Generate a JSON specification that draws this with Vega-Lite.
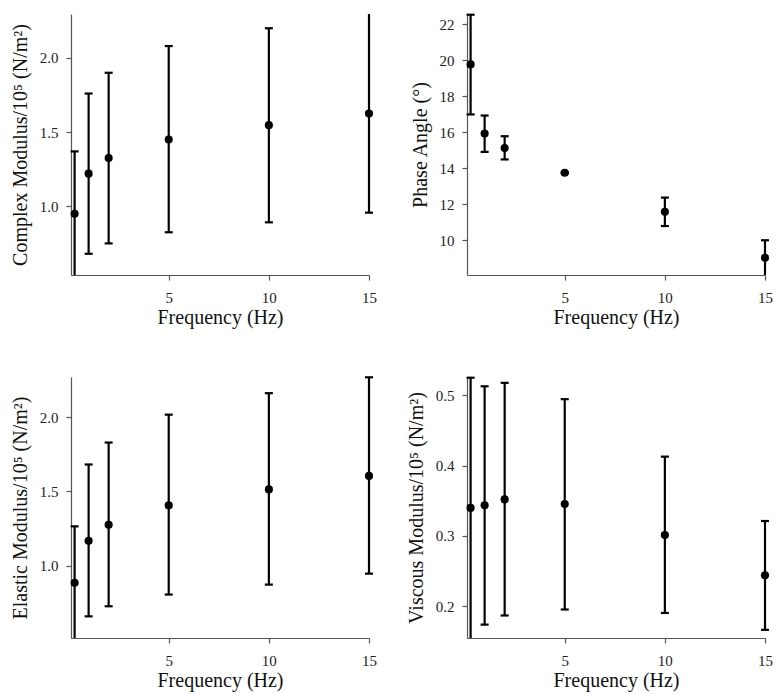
{
  "$schema": "https://vega.github.io/schema/vega-lite/v6.json",
  "background": "white",
  "padding": {"left": 10, "top": 12, "right": 5, "bottom": 5},
  "datasets": {
    "complex": [
      {"f": 0.3, "m": 0.95, "lo": 0.53, "hi": 1.37},
      {"f": 1, "m": 1.22, "lo": 0.68, "hi": 1.76},
      {"f": 2, "m": 1.325, "lo": 0.75, "hi": 1.90},
      {"f": 5, "m": 1.45, "lo": 0.825, "hi": 2.08},
      {"f": 10, "m": 1.547, "lo": 0.892, "hi": 2.20},
      {"f": 15, "m": 1.625, "lo": 0.957, "hi": 2.31}
    ],
    "phase": [
      {"f": 0.3, "m": 19.76, "lo": 16.98, "hi": 22.52},
      {"f": 1, "m": 15.92, "lo": 14.9, "hi": 16.92},
      {"f": 2, "m": 15.11, "lo": 14.48, "hi": 15.77},
      {"f": 5, "m": 13.74, "lo": 13.71, "hi": 13.77},
      {"f": 10, "m": 11.57, "lo": 10.78, "hi": 12.36},
      {"f": 15, "m": 9.02, "lo": 8.04, "hi": 9.99}
    ],
    "elastic": [
      {"f": 0.3, "m": 0.884, "lo": 0.50, "hi": 1.265},
      {"f": 1, "m": 1.168, "lo": 0.658, "hi": 1.682},
      {"f": 2, "m": 1.276, "lo": 0.726, "hi": 1.83},
      {"f": 5, "m": 1.406, "lo": 0.805, "hi": 2.018},
      {"f": 10, "m": 1.514, "lo": 0.872, "hi": 2.163},
      {"f": 15, "m": 1.605, "lo": 0.946, "hi": 2.27}
    ],
    "viscous": [
      {"f": 0.3, "m": 0.34, "lo": 0.15, "hi": 0.525},
      {"f": 1, "m": 0.3436, "lo": 0.174, "hi": 0.5128},
      {"f": 2, "m": 0.352, "lo": 0.187, "hi": 0.5177},
      {"f": 5, "m": 0.3455, "lo": 0.1955, "hi": 0.4945},
      {"f": 10, "m": 0.3014, "lo": 0.1906, "hi": 0.4128},
      {"f": 15, "m": 0.2442, "lo": 0.1666, "hi": 0.3213}
    ]
  },
  "columns": 2,
  "bounds": "flush",
  "spacing": {"column": 98, "row": 102},
  "concat": [
    {
      "width": 298, "height": 261,
      "data": {"name": "complex"},
      "layer": [
        {"mark": {"type": "rule", "strokeWidth": 2.2, "color": "black"},
         "encoding": {
           "x": {"field": "f", "type": "quantitative", "scale": {"domain": [0.12, 15], "nice": false, "zero": false}, "axis": {"values": [5, 10, 15], "title": "Frequency (Hz)"}},
           "y": {"field": "lo", "type": "quantitative", "scale": {"domain": [0.537, 2.296], "nice": false, "zero": false, "clamp": true}, "axis": {"values": [1.0, 1.5, 2.0], "format": ".1f"}, "title": "Complex Modulus/10⁵ (N/m²)"},
           "y2": {"field": "hi"}}},
        {"transform": [{"filter": "datum.hi <= 2.296"}],
         "mark": {"type": "tick", "orient": "horizontal", "size": 8, "thickness": 2.2, "color": "black", "opacity": 1},
         "encoding": {"x": {"field": "f", "type": "quantitative"}, "y": {"field": "hi", "type": "quantitative", "title": "Complex Modulus/10⁵ (N/m²)"}}},
        {"transform": [{"filter": "datum.lo >= 0.537"}],
         "mark": {"type": "tick", "orient": "horizontal", "size": 8, "thickness": 2.2, "color": "black", "opacity": 1},
         "encoding": {"x": {"field": "f", "type": "quantitative"}, "y": {"field": "lo", "type": "quantitative", "title": "Complex Modulus/10⁵ (N/m²)"}}},
        {"mark": {"type": "point", "filled": true, "size": 66, "color": "black", "opacity": 1},
         "encoding": {"x": {"field": "f", "type": "quantitative"}, "y": {"field": "m", "type": "quantitative", "title": "Complex Modulus/10⁵ (N/m²)"}}}
      ]
    },
    {
      "width": 298, "height": 261,
      "data": {"name": "phase"},
      "layer": [
        {"mark": {"type": "rule", "strokeWidth": 2.2, "color": "black"},
         "encoding": {
           "x": {"field": "f", "type": "quantitative", "scale": {"domain": [0.12, 15], "nice": false, "zero": false}, "axis": {"values": [5, 10, 15], "title": "Frequency (Hz)"}},
           "y": {"field": "lo", "type": "quantitative", "scale": {"domain": [8.06, 22.56], "nice": false, "zero": false, "clamp": true}, "axis": {"values": [10, 12, 14, 16, 18, 20, 22]}, "title": "Phase Angle (°)"},
           "y2": {"field": "hi"}}},
        {"transform": [{"filter": "datum.hi <= 22.56"}],
         "mark": {"type": "tick", "orient": "horizontal", "size": 8, "thickness": 2.2, "color": "black", "opacity": 1},
         "encoding": {"x": {"field": "f", "type": "quantitative"}, "y": {"field": "hi", "type": "quantitative", "title": "Phase Angle (°)"}}},
        {"transform": [{"filter": "datum.lo >= 8.06"}],
         "mark": {"type": "tick", "orient": "horizontal", "size": 8, "thickness": 2.2, "color": "black", "opacity": 1},
         "encoding": {"x": {"field": "f", "type": "quantitative"}, "y": {"field": "lo", "type": "quantitative", "title": "Phase Angle (°)"}}},
        {"mark": {"type": "point", "filled": true, "size": 66, "color": "black", "opacity": 1},
         "encoding": {"x": {"field": "f", "type": "quantitative"}, "y": {"field": "m", "type": "quantitative", "title": "Phase Angle (°)"}}}
      ]
    },
    {
      "width": 298, "height": 261,
      "data": {"name": "elastic"},
      "layer": [
        {"mark": {"type": "rule", "strokeWidth": 2.2, "color": "black"},
         "encoding": {
           "x": {"field": "f", "type": "quantitative", "scale": {"domain": [0.12, 15], "nice": false, "zero": false}, "axis": {"values": [5, 10, 15], "title": "Frequency (Hz)"}},
           "y": {"field": "lo", "type": "quantitative", "scale": {"domain": [0.512, 2.272], "nice": false, "zero": false, "clamp": true}, "axis": {"values": [1.0, 1.5, 2.0], "format": ".1f"}, "title": "Elastic Modulus/10⁵ (N/m²)"},
           "y2": {"field": "hi"}}},
        {"transform": [{"filter": "datum.hi <= 2.272"}],
         "mark": {"type": "tick", "orient": "horizontal", "size": 8, "thickness": 2.2, "color": "black", "opacity": 1},
         "encoding": {"x": {"field": "f", "type": "quantitative"}, "y": {"field": "hi", "type": "quantitative", "title": "Elastic Modulus/10⁵ (N/m²)"}}},
        {"transform": [{"filter": "datum.lo >= 0.512"}],
         "mark": {"type": "tick", "orient": "horizontal", "size": 8, "thickness": 2.2, "color": "black", "opacity": 1},
         "encoding": {"x": {"field": "f", "type": "quantitative"}, "y": {"field": "lo", "type": "quantitative", "title": "Elastic Modulus/10⁵ (N/m²)"}}},
        {"mark": {"type": "point", "filled": true, "size": 66, "color": "black", "opacity": 1},
         "encoding": {"x": {"field": "f", "type": "quantitative"}, "y": {"field": "m", "type": "quantitative", "title": "Elastic Modulus/10⁵ (N/m²)"}}}
      ]
    },
    {
      "width": 298, "height": 261,
      "data": {"name": "viscous"},
      "layer": [
        {"mark": {"type": "rule", "strokeWidth": 2.2, "color": "black"},
         "encoding": {
           "x": {"field": "f", "type": "quantitative", "scale": {"domain": [0.12, 15], "nice": false, "zero": false}, "axis": {"values": [5, 10, 15], "title": "Frequency (Hz)"}},
           "y": {"field": "lo", "type": "quantitative", "scale": {"domain": [0.155, 0.526], "nice": false, "zero": false, "clamp": true}, "axis": {"values": [0.2, 0.3, 0.4, 0.5], "format": ".1f"}, "title": "Viscous Modulus/10⁵ (N/m²)"},
           "y2": {"field": "hi"}}},
        {"transform": [{"filter": "datum.hi <= 0.526"}],
         "mark": {"type": "tick", "orient": "horizontal", "size": 8, "thickness": 2.2, "color": "black", "opacity": 1},
         "encoding": {"x": {"field": "f", "type": "quantitative"}, "y": {"field": "hi", "type": "quantitative", "title": "Viscous Modulus/10⁵ (N/m²)"}}},
        {"transform": [{"filter": "datum.lo >= 0.155"}],
         "mark": {"type": "tick", "orient": "horizontal", "size": 8, "thickness": 2.2, "color": "black", "opacity": 1},
         "encoding": {"x": {"field": "f", "type": "quantitative"}, "y": {"field": "lo", "type": "quantitative", "title": "Viscous Modulus/10⁵ (N/m²)"}}},
        {"mark": {"type": "point", "filled": true, "size": 66, "color": "black", "opacity": 1},
         "encoding": {"x": {"field": "f", "type": "quantitative"}, "y": {"field": "m", "type": "quantitative", "title": "Viscous Modulus/10⁵ (N/m²)"}}}
      ]
    }
  ],
  "config": {
    "font": "Liberation Serif",
    "view": {"stroke": null},
    "axis": {
      "grid": false,
      "domainColor": "#555555",
      "domainWidth": 1.2,
      "tickColor": "#555555",
      "tickSize": 5,
      "tickWidth": 1.2,
      "labelFont": "Liberation Serif",
      "labelFontSize": 15,
      "labelColor": "#222222",
      "titleFont": "Liberation Serif",
      "titleFontSize": 20,
      "titleFontWeight": "normal",
      "titleColor": "#111111"
    },
    "axisX": {"labelFlush": false, "labelPadding": 10, "titlePadding": 2},
    "axisY": {"labelFlush": false, "labelPadding": 8, "titlePadding": 9}
  }
}
